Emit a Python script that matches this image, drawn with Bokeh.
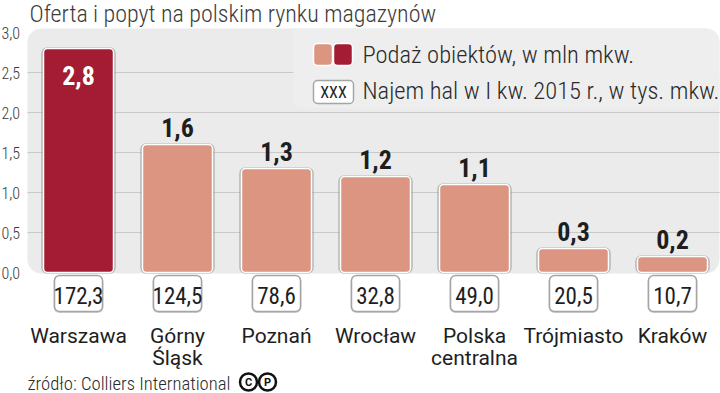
from bokeh.plotting import figure
from bokeh.models import ColumnDataSource, Range1d
from bokeh.core.properties import value
from bokeh.embed import file_html
from bokeh.resources import INLINE

# ---------------- data ----------------
title_text = "Oferta i popyt na polskim rynku magazynów"
source_text = "źródło: Colliers International"
categories = ["Warszawa", "Górny\nŚląsk", "Poznań", "Wrocław", "Polska\ncentralna", "Trójmiasto", "Kraków"]
supply = [2.8, 1.6, 1.3, 1.2, 1.1, 0.3, 0.2]          # mln m2
lease = [172.3, 124.5, 78.6, 32.8, 49.0, 20.5, 10.7]    # tys. m2
highlight = ["Warszawa"]
y_ticks = [0.0, 0.5, 1.0, 1.5, 2.0, 2.5, 3.0]
y_tick_labels = ["0,0", "0,5", "1,0", "1,5", "2,0", "2,5", "3,0"]
legend_labels = ["Podaż obiektów, w mln mkw.", "Najem hal w I kw. 2015 r., w tys. mkw."]
legend_box_text = "XXX"

# ---------------- styling ----------------
DARK = "#a31c33"
LIGHT = "#db9581"
PANEL = "#ebebeb"
GRID = "#c9c9c9"
TXT = "#1e1e1e"
F_REG = value("Roboto")
F_COND = value("Roboto Condensed")
F_LIGHT = value("Roboto Condensed Light")

X0_PX, X_STEP = 78.0, 99.0   # pixel centre of first category, pixels per category
Y0_PX, Y_STEP = 272.0, 80.0  # pixel of value 0, pixels per unit


def px2x(px):
    return (px - X0_PX) / X_STEP


def px2y(py):
    return (Y0_PX - py) / Y_STEP


def dx(px):
    return px / X_STEP


def dy(px):
    return px / Y_STEP


W, H = 720, 393
p = figure(width=W, height=H,
           x_range=Range1d(px2x(0), px2x(W)),
           y_range=Range1d(px2y(H), px2y(0)),
           x_axis_type=None, y_axis_type=None,
           toolbar_location=None, output_backend="svg",
           min_border=0, outline_line_color=None,
           background_fill_color="white", border_fill_color="white")

n = len(categories)
xs = list(range(n))
is_hi = [c in highlight for c in categories]
colors = [DARK if h else LIGHT for h in is_hi]

# panel
p.quad(left=px2x(27), right=px2x(719), bottom=px2y(273), top=px2y(28),
       fill_color=PANEL, line_color=None, border_radius=14)

# grid lines
grid_vals = [t for t in y_ticks if 0 < t < max(y_ticks)]
p.segment(x0=[px2x(27)] * len(grid_vals), x1=[px2x(719)] * len(grid_vals),
          y0=grid_vals, y1=grid_vals, line_color=GRID, line_width=1)

# legend box
p.quad(left=px2x(293), right=px2x(719), bottom=px2y(108), top=px2y(28),
       fill_color="#eeeeee", line_color=None, border_radius=(0, 14, 0, 8))

# bars
src = ColumnDataSource(dict(
    x=xs, top=supply, color=colors, lease=lease,
    lab=[f"{v:.1f}".replace(".", ",") for v in supply],
    lease_lab=[f"{v:.1f}".replace(".", ",") for v in lease],
))
p.vbar(x="x", top="top", bottom=0, width=dx(72), source=src,
       fill_color=None, line_color="#8a8a8a", line_alpha=0.55, line_width=2.5, border_radius=5)
p.vbar(x="x", top="top", bottom=0, width=dx(70), source=src,
       fill_color="color", line_color="white", line_width=1.5, border_radius=4)

# value labels on bars
out_idx = [i for i in xs if not is_hi[i]]
in_idx = [i for i in xs if is_hi[i]]
p.text(x=[xs[i] for i in out_idx], y=[supply[i] + dy(17.5) for i in out_idx],
       text=[src.data["lab"][i] for i in out_idx],
       text_font=F_COND, text_font_style="bold", text_font_size="26px",
       text_color=TXT, text_align="center", text_baseline="middle")
p.text(x=[xs[i] for i in in_idx], y=[supply[i] - dy(27) for i in in_idx],
       text=[src.data["lab"][i] for i in in_idx],
       text_font=F_COND, text_font_style="bold", text_font_size="26px",
       text_color="white", text_align="center", text_baseline="middle")

# lease boxes under bars
p.quad(left=[x - dx(25) for x in xs], right=[x + dx(25) for x in xs],
       top=[-dy(3.5)] * n, bottom=[-dy(40.5)] * n,
       fill_color="#bdbdbd", fill_alpha=0.7, line_color=None, border_radius=6)
p.quad(left=[x - dx(24) for x in xs], right=[x + dx(24) for x in xs],
       top=[-dy(3)] * n, bottom=[-dy(39)] * n,
       fill_color="white", line_color="#a5a5a5", line_width=1.5, border_radius=5)
p.text(x="x", y=-dy(22.5), text="lease_lab", source=src,
       text_font=F_COND, text_font_size="23px", text_color=TXT,
       text_align="center", text_baseline="middle")

# category labels (two lines max)
line1 = [c.split("\n")[0] for c in categories]
line2 = [c.split("\n")[1] if "\n" in c else "" for c in categories]
p.text(x=xs, y=[px2y(335.5)] * n, text=line1, text_font=F_REG, text_font_size="21px",
       text_color=TXT, text_align="center", text_baseline="middle")
p.text(x=xs, y=[px2y(357)] * n, text=line2, text_font=F_REG, text_font_size="21px",
       text_color=TXT, text_align="center", text_baseline="middle")

# y tick labels
p.text(x=[px2x(1)] * len(y_ticks), y=y_ticks, text=y_tick_labels,
       text_font=F_LIGHT, text_font_size="16px", text_color="#3a3a3a",
       text_align="left", text_baseline="middle")

# title
p.text(x=[px2x(29)], y=[px2y(13.5)], text=[title_text], text_font=F_LIGHT,
       text_font_size="24px", text_color="#3c3c3c", text_align="left", text_baseline="middle")

# legend
p.quad(left=[px2x(313), px2x(333)], right=[px2x(332), px2x(352)],
       top=[px2y(43)] * 2, bottom=[px2y(65)] * 2,
       fill_color=[LIGHT, DARK], line_color="white", line_width=1.5, border_radius=4)
p.quad(left=[px2x(313)], right=[px2x(353)], top=[px2y(80)], bottom=[px2y(103)],
       fill_color="white", line_color="#a5a5a5", line_width=1.5, border_radius=4)
p.text(x=[px2x(333)], y=[px2y(92)], text=[legend_box_text], text_font=F_COND,
       text_font_size="16px", text_color=TXT, text_align="center", text_baseline="middle")
p.text(x=[px2x(362)] * 2, y=[px2y(54), px2y(90)], text=legend_labels, text_font=F_LIGHT,
       text_font_size="24.5px", text_color="#2a2a2a", text_align="left", text_baseline="middle")

# footer
p.text(x=[px2x(27)], y=[px2y(383)], text=[source_text], text_font=F_LIGHT,
       text_font_size="18.7px", text_color="#2a2a2a", text_align="left", text_baseline="middle")
p.scatter(x=[px2x(248), px2x(267)], y=[px2y(381.5)] * 2, size=17, marker="circle",
          fill_color=None, line_color="#111111", line_width=2.5)
p.text(x=[px2x(248), px2x(267)], y=[px2y(381.5)] * 2, text=["C", "P"], text_font=F_REG,
       text_font_style="bold", text_font_size="11px", text_color="#111111",
       text_align="center", text_baseline="middle")

open("out.html", "w").write(file_html(p, INLINE))
